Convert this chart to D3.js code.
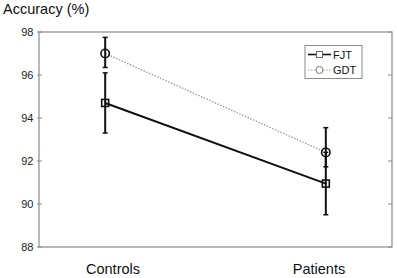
<!DOCTYPE html>
<html><head><meta charset="utf-8">
<script src="https://cdn.jsdelivr.net/npm/d3@7"></script>
<style>body{margin:0;background:#fff}svg{display:block}text{font-family:"Liberation Sans",Arial,sans-serif}</style>
</head><body><svg id="c" width="397" height="278"></svg>
<script>
const categories = ["Controls", "Patients"];
const seriesNames = ["FJT", "GDT"];
const fjtValues = [94.7, 90.95];
const fjtErrLow = [1.4, 1.45];
const fjtErrHigh = [1.4, 1.45];
const gdtValues = [97.0, 92.4];
const gdtErrLow = [0.65, 0.67];
const gdtErrHigh = [0.75, 1.15];
const yTicks = [88, 90, 92, 94, 96, 98];

const svg = d3.select("#c");
const L = 39, R = 392, T = 32, B = 247;
const x = d3.scaleLinear().domain([0.7, 2.3]).range([L, R]);
const y = d3.scaleLinear().domain([88, 98]).range([B, T]);
const xl = d3.scalePoint().domain(categories).range([113, 319]);
const axisCol = "#8a8a8a";

// frame
svg.append("rect").attr("x", L).attr("y", T).attr("width", R - L).attr("height", B - T)
  .attr("fill", "none").attr("stroke", axisCol).attr("stroke-width", 1.2);

// ticks
const g = svg.append("g");
yTicks.forEach(t => {
  g.append("line").attr("x1", L - 2).attr("x2", L + 3).attr("y1", y(t)).attr("y2", y(t)).attr("stroke", axisCol);
  g.append("line").attr("x1", R - 4).attr("x2", R).attr("y1", y(t)).attr("y2", y(t)).attr("stroke", axisCol);
  g.append("text").attr("x", 33.5).attr("y", y(t) + 4).attr("text-anchor", "end")
    .attr("font-size", 11).attr("fill", "#222").text(t);
});

// category labels
categories.forEach(c => {
  svg.append("text").attr("x", xl(c)).attr("y", 274).attr("text-anchor", "middle")
    .attr("font-size", 14.5).attr("fill", "#111").text(c);
});

// y title
svg.append("text").attr("x", 3).attr("y", 14).attr("font-size", 14.5).attr("fill", "#111").text("Accuracy (%)");

const series = [
  {name: "FJT", vals: fjtValues, lo: fjtErrLow, hi: fjtErrHigh, color: "#111", width: 2, dash: null, marker: "square"},
  {name: "GDT", vals: gdtValues, lo: gdtErrLow, hi: gdtErrHigh, color: "#999", width: 1.3, dash: "1.5,1.5", marker: "circle"}
];

const line = d3.line().x((d, i) => x(i + 1)).y(d => y(d));

// lines
series.slice().reverse().forEach(s => {
  svg.append("path").attr("d", line(s.vals)).attr("fill", "none")
    .attr("stroke", s.color).attr("stroke-width", s.width).attr("stroke-dasharray", s.dash);
});

// error bars
series.forEach(s => {
  s.vals.forEach((v, i) => {
    const cx = x(i + 1);
    const y1 = y(v + s.hi[i]), y2 = y(v - s.lo[i]);
    svg.append("line").attr("x1", cx).attr("x2", cx).attr("y1", y1).attr("y2", y2).attr("stroke", "#111").attr("stroke-width", 2);
    [y1, y2].forEach(yy => svg.append("line").attr("x1", cx - 2.5).attr("x2", cx + 2.5).attr("y1", yy).attr("y2", yy)
      .attr("stroke", "#111").attr("stroke-width", 1.5));
  });
});

function marker(sel, type, cx, cy, col, sw) {
  if (type === "square") {
    sel.append("rect").attr("x", cx - 3.5).attr("y", cy - 3.5).attr("width", 7).attr("height", 7)
      .attr("fill", "none").attr("stroke", col).attr("stroke-width", sw);
  } else {
    sel.append("circle").attr("cx", cx).attr("cy", cy).attr("r", 4.2)
      .attr("fill", "none").attr("stroke", col).attr("stroke-width", sw);
  }
}
series.forEach(s => s.vals.forEach((v, i) => marker(svg, s.marker, x(i + 1), y(v), "#111", 1.6)));

// legend
const lg = svg.append("g");
lg.append("rect").attr("x", 305).attr("y", 45.5).attr("width", 57).attr("height", 33)
  .attr("fill", "#fff").attr("stroke", axisCol).attr("stroke-width", 1);
series.forEach((s, k) => {
  const ly = 54.5 + k * 15.5;
  lg.append("line").attr("x1", 308).attr("x2", 331).attr("y1", ly).attr("y2", ly)
    .attr("stroke", s.color).attr("stroke-width", s.name === "FJT" ? 1.6 : 1.2).attr("stroke-dasharray", s.dash);
  if (s.marker === "square") {
    lg.append("rect").attr("x", 316.5).attr("y", ly - 3).attr("width", 6).attr("height", 6).attr("fill", "#fff").attr("stroke", "#666").attr("stroke-width", 1);
  } else {
    lg.append("circle").attr("cx", 319.5).attr("cy", ly).attr("r", 3.5).attr("fill", "#fff").attr("stroke", "#777").attr("stroke-width", 1);
  }
  lg.append("text").attr("x", 333).attr("y", ly + 4).attr("font-size", 11).attr("fill", "#111").text(s.name);
});
</script></body></html>
